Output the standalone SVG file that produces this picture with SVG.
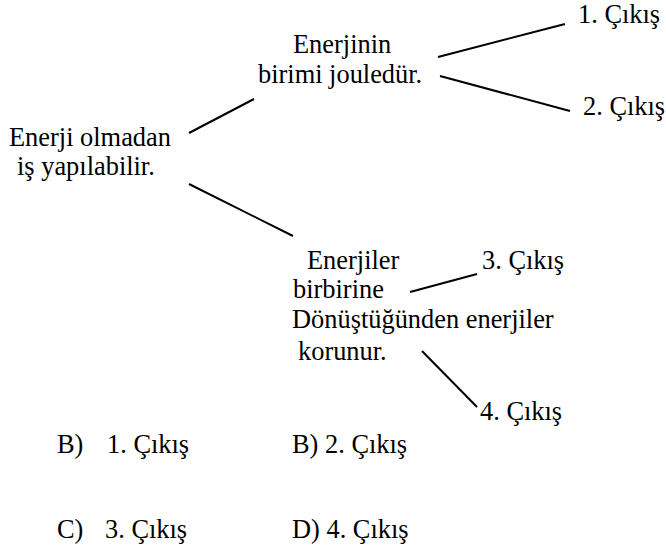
<svg xmlns="http://www.w3.org/2000/svg" width="666" height="552" viewBox="0 0 666 552">
<style>
.t text{font-size:26.4px;fill:#000}
.c line{stroke:#000;stroke-width:2}
</style>
<rect width="666" height="552" fill="#fff"/>
<g class="t" font-family="'Liberation Serif', 'DejaVu Serif', serif">
<g id="root">
<text x="9" y="146">Enerji olmadan</text>
<text x="17" y="175">iş yapılabilir.</text>
</g>
<g id="n1">
<text x="293" y="53">Enerjinin</text>
<text x="258" y="83">birimi jouledür.</text>
</g>
<g id="n2">
<text x="307" y="269">Enerjiler</text>
<text x="293" y="298">birbirine</text>
<text x="292" y="328">Dönüştüğünden enerjiler</text>
<text x="298" y="360">korunur.</text>
</g>
<g id="o1"><text x="578" y="23">1. Çıkış</text></g>
<g id="o2"><text x="583" y="115">2. Çıkış</text></g>
<g id="o3"><text x="482" y="269">3. Çıkış</text></g>
<g id="o4"><text x="480" y="420">4. Çıkış</text></g>
<g id="options">
<text x="57" y="453">B)</text>
<text x="107" y="453">1. Çıkış</text>
<text x="292" y="453">B) 2. Çıkış</text>
<text x="57" y="538">C)</text>
<text x="105" y="538">3. Çıkış</text>
<text x="292" y="538">D) 4. Çıkış</text>
</g>
</g>
<g id="connectors" class="c">
<line x1="189" y1="133" x2="254" y2="99"/>
<line x1="189" y1="184" x2="293" y2="236"/>
<line x1="438" y1="57" x2="565" y2="24"/>
<line x1="440" y1="76" x2="570" y2="111"/>
<line x1="410" y1="292" x2="477" y2="274"/>
<line x1="422" y1="351" x2="477" y2="407"/>
</g>
</svg>
